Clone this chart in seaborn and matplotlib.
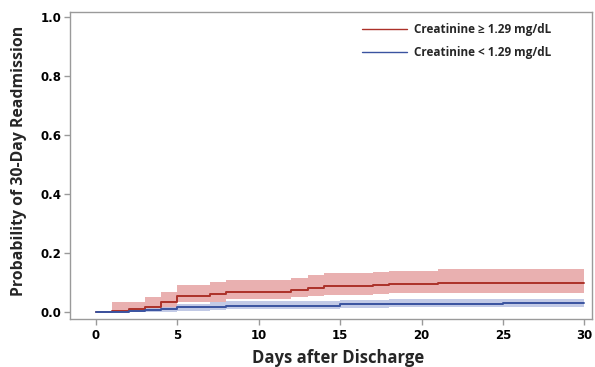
import matplotlib
matplotlib.use("Agg")
import matplotlib.pyplot as plt
import numpy as np
import pandas as pd
import seaborn as sns

# Kaplan-Meier style cumulative incidence
red_days = [0, 1, 2, 3, 4, 5, 7, 8, 12, 13, 14, 17, 18, 21, 30]
red_prob = [0.0, 0.005, 0.010, 0.019, 0.034, 0.056, 0.063, 0.070, 0.076, 0.083, 0.088, 0.093, 0.096, 0.100, 0.100]
red_lower = [0.0, 0.0, 0.0, 0.004, 0.013, 0.033, 0.036, 0.044, 0.052, 0.055, 0.058, 0.062, 0.065, 0.065, 0.065]
red_upper = [0.0, 0.033, 0.036, 0.051, 0.068, 0.092, 0.101, 0.110, 0.117, 0.125, 0.131, 0.137, 0.140, 0.146, 0.146]

blue_days = [0, 1, 2, 3, 4, 5, 7, 8, 15, 18, 25, 30]
blue_prob = [0.0, 0.001, 0.003, 0.006, 0.010, 0.016, 0.019, 0.021, 0.027, 0.029, 0.031, 0.031]
blue_lower = [0.0, 0.0, 0.0, 0.0, 0.001, 0.005, 0.007, 0.010, 0.014, 0.016, 0.017, 0.017]
blue_upper = [0.0, 0.004, 0.008, 0.013, 0.019, 0.027, 0.033, 0.038, 0.042, 0.043, 0.044, 0.044]

labels = ["Creatinine \u2265 1.29 mg/dL", "Creatinine < 1.29 mg/dL"]
x_ticks = [0, 5, 10, 15, 20, 25, 30]
y_ticks = [0.0, 0.2, 0.4, 0.6, 0.8, 1.0]

COLORS = {
    "red_line": "#AC3129",
    "red_band": "#E9B0B0",
    "blue_line": "#3A53A0",
    "blue_band": "#B8C1E2",
    "spine": "#9A9A9A",
}

sns.set_style("ticks")
plt.rcParams["font.family"] = ["Open Sans", "DejaVu Sans"]

df_red = pd.DataFrame({"day": red_days, "prob": red_prob, "group": labels[0]})
df_blue = pd.DataFrame({"day": blue_days, "prob": blue_prob, "group": labels[1]})
df = pd.concat([df_red, df_blue], ignore_index=True)

fig = plt.figure(figsize=(5.95, 3.67), dpi=100)
ax = fig.add_axes([0.1176, 0.1308, 0.8767, 0.8362])

ax.fill_between(red_days, red_lower, red_upper, step="post",
                color=COLORS["red_band"], linewidth=0)
ax.fill_between(blue_days, blue_lower, blue_upper, step="post",
                color=COLORS["blue_band"], alpha=0.85, linewidth=0)

sns.lineplot(data=df, x="day", y="prob", hue="group", ax=ax,
             hue_order=labels,
             palette=[COLORS["red_line"], COLORS["blue_line"]],
             drawstyle="steps-post", linewidth=1.4, estimator=None)

ax.set_xlim(-1.6, 30.45)
ax.set_ylim(-0.023, 1.015)
ax.set_xticks(x_ticks)
ax.set_yticks(y_ticks)
ax.set_yticklabels([f"{v:.1f}" for v in y_ticks])

for side in ["left", "right", "top", "bottom"]:
    ax.spines[side].set_visible(True)
    ax.spines[side].set_color(COLORS["spine"])
    ax.spines[side].set_linewidth(1.0)
ax.tick_params(axis="both", colors=COLORS["spine"], length=4.5, width=1.0,
               labelcolor="black", labelsize=8.5)
ax.tick_params(axis="y", pad=1.5)
ax.tick_params(axis="x", pad=3)
for lbl in ax.get_xticklabels() + ax.get_yticklabels():
    lbl.set_fontweight("bold")
    lbl.set_family("DejaVu Sans")

ax.set_xlabel("Days after Discharge", fontsize=12, fontweight="bold")
ax.set_ylabel("Probability of 30-Day Readmission", fontsize=11.4, fontweight="bold")
ax.xaxis.set_label_coords(0.514, -0.098)
ax.yaxis.set_label_coords(-0.082, 0.515)

leg = ax.legend(loc="upper left", bbox_to_anchor=(0.56, 0.965), frameon=False,
                fontsize=8.5, handlelength=3.8, handletextpad=0.62,
                labelspacing=0.87, borderpad=0, borderaxespad=0)
for t in leg.get_texts():
    t.set_fontweight("bold")
for h in leg.get_lines():
    h.set_linewidth(1.0)

fig.savefig("out.png", dpi=100)
